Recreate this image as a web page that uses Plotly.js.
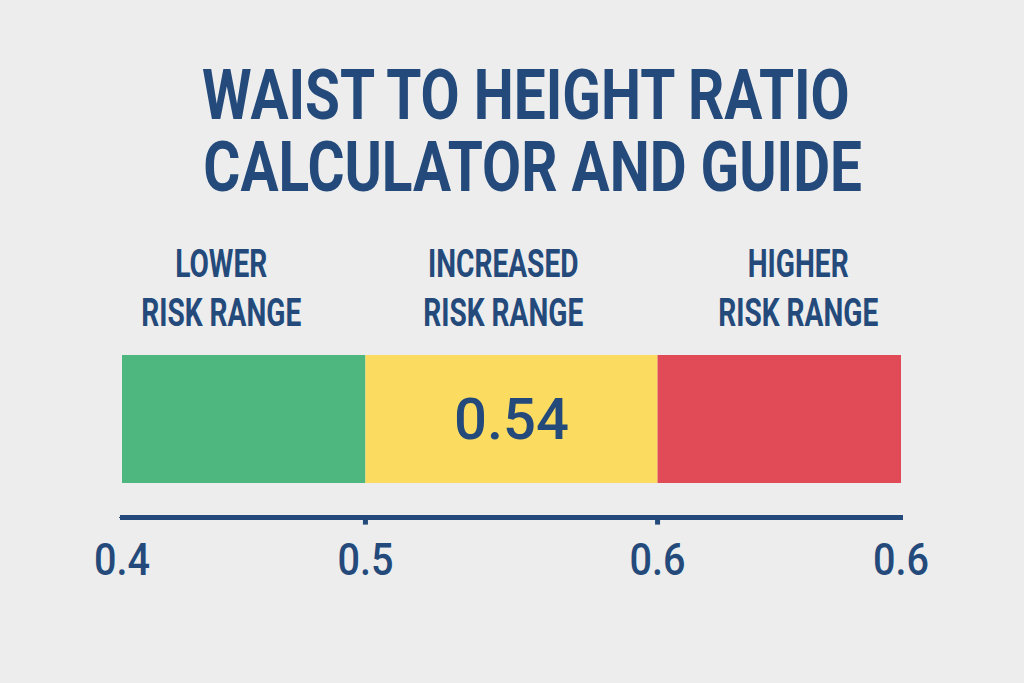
<!DOCTYPE html>
<html>
<head>
<meta charset="utf-8">
<script src="https://cdn.plot.ly/plotly-3.0.1.min.js"></script>
<style>
html,body{margin:0;padding:0;background:#ededed;}
#chart{width:1024px;height:683px;}
#chart path.xlines-above, #chart path.xlines-below { stroke-linecap: round; }
</style>
</head>
<body>
<div id="chart"></div>
<script>
// Data
const titleLines = ["WAIST TO HEIGHT RATIO", "CALCULATOR AND GUIDE"];
const rangeNames = ["LOWER<br>RISK RANGE", "INCREASED<br>RISK RANGE", "HIGHER<br>RISK RANGE"];
const rangeStarts = [0.40, 0.50, 0.62];
const rangeEnds = [0.50, 0.62, 0.72];
const rangeColors = ["#4db77f", "#fbdc60", "#e04b57"];
const rangeValueText = ["", "0.54", ""];
const tickPositions = [0.40, 0.50, 0.62, 0.72];
const tickLabels = ["0.4", "0.5", "0.6", "0.6"];
const innerTicks = [0.50, 0.62];

const navy = "#244a7b";
const font = "Roboto, 'Open Sans', sans-serif";

const widths = rangeEnds.map((e, i) => e - rangeStarts[i]);
const mids = rangeEnds.map((e, i) => (e + rangeStarts[i]) / 2);
const labelShift = [-23, -9, 19];

const trace = {
  type: "bar",
  orientation: "h",
  y: [0.6, 0.6, 0.6],
  x: widths,
  base: rangeStarts,
  width: 0.8,
  marker: {color: rangeColors, line: {width: 0}},
  text: rangeValueText,
  textposition: "inside",
  insidetextanchor: "middle",
  textfont: {family: font, size: 58, color: navy, weight: 500},
  hoverinfo: "none",
  showlegend: false
};

const annotations = rangeNames.map((n, i) => ({
  x: mids[i], xref: "x", y: 1, yref: "paper",
  yanchor: "bottom", xanchor: "center", yshift: 18, xshift: labelShift[i],
  text: n, showarrow: false,
  font: {family: font, size: 38, color: navy, weight: 700}
}));

// title lines: paper y for pixel p is (515 - p) / 160
const titleCenters = [95, 167];
const titleX = [0.518, 0.527];
titleLines.forEach((t, i) => annotations.push({
  x: titleX[i], xref: "paper", y: (515 - titleCenters[i]) / 160, yref: "paper",
  xanchor: "center", yanchor: "middle", showarrow: false,
  text: t,
  font: {family: font, size: 70, color: navy, weight: 700}
}));

const shapes = innerTicks.map(v => ({
  type: "line", xref: "x", yref: "paper",
  x0: v, x1: v, y0: 0, y1: -0.06,
  line: {color: navy, width: 5}
}));

const layout = {
  width: 1024, height: 683,
  paper_bgcolor: "#ededed", plot_bgcolor: "#ededed",
  margin: {l: 122, r: 123, t: 355, b: 168},
  barmode: "overlay",
  xaxis: {
    range: [0.40, 0.72], showgrid: false, zeroline: false,
    showline: true, linecolor: navy, linewidth: 5,
    tickvals: tickPositions, ticktext: tickLabels,
    ticks: "", ticklabelstandoff: 2,
    tickfont: {family: font, size: 44, color: navy, weight: 500},
    fixedrange: true
  },
  yaxis: {
    range: [0, 1], visible: false, fixedrange: true
  },
  annotations: annotations,
  shapes: shapes
};

// condensed look of the poster lettering: narrow the text horizontally about its centre
function condense(el, s) {
  const bb = el.getBBox();
  const cx = bb.x + bb.width / 2;
  const prev = el.getAttribute("transform") || "";
  el.setAttribute("transform", prev + ` translate(${cx} 0) scale(${s} 1) translate(${-cx} 0)`);
}

Plotly.newPlot("chart", [trace], layout, {displayModeBar: false, staticPlot: true}).then(gd => {
  const texts = gd.querySelectorAll(".annotation-text");
  texts.forEach((el, i) => {
    if (i < rangeNames.length) condense(el, 0.74);
    else condense(el, 0.81);
  });
  gd.querySelectorAll(".xtick text").forEach(el => condense(el, 0.9));
});
</script>
</body>
</html>
